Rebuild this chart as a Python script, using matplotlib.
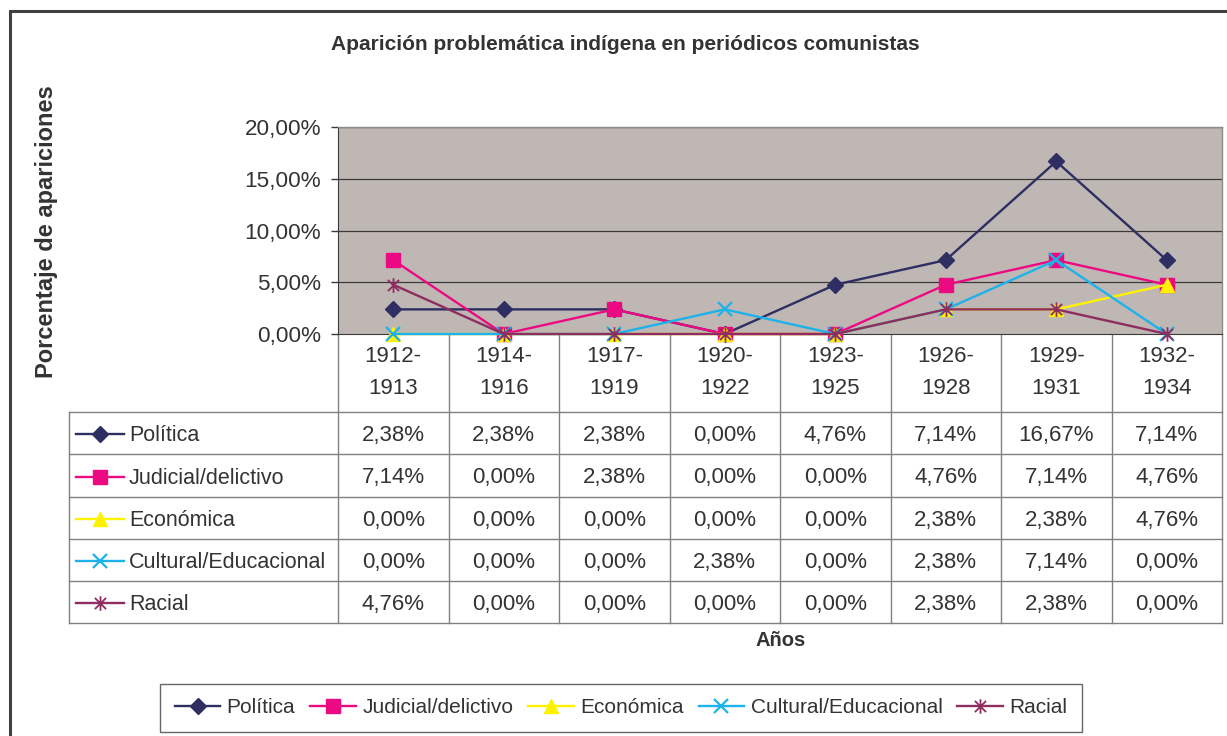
"""
Aparición problemática indígena en periódicos comunistas
Excel-style line chart with data table underneath.
"""

import matplotlib
matplotlib.use("Agg")
import matplotlib.pyplot as plt
from matplotlib.path import Path
from matplotlib.lines import Line2D

# ============================================================
# Data
# ============================================================
PERIODS = ["1912-\n1913", "1914-\n1916", "1917-\n1919", "1920-\n1922",
           "1923-\n1925", "1926-\n1928", "1929-\n1931", "1932-\n1934"]
SERIES_NAMES = ["Política", "Judicial/delictivo", "Económica",
                "Cultural/Educacional", "Racial"]
politica = [2.38, 2.38, 2.38, 0.00, 4.76, 7.14, 16.67, 7.14]
judicial = [7.14, 0.00, 2.38, 0.00, 0.00, 4.76, 7.14, 4.76]
economica = [0.00, 0.00, 0.00, 0.00, 0.00, 2.38, 2.38, 4.76]
cultural = [0.00, 0.00, 0.00, 2.38, 0.00, 2.38, 7.14, 0.00]
racial = [4.76, 0.00, 0.00, 0.00, 0.00, 2.38, 2.38, 0.00]
Y_TICKS = [0, 5, 10, 15, 20]

# ============================================================
# Styles
# ============================================================
W, H = 1227, 736
FONT = ["Liberation Sans", "DejaVu Sans"]
TXT = "#333333"
GRID = "#3a3a3a"
TABLE_LINE = "#808080"
PLOT_BG = "#BFB7B4"

# Excel "star" marker: an x with a vertical bar
ASTERISK = Path([(-1, -1), (1, 1), (-1, 1), (1, -1), (0, -1.3), (0, 1.3)],
                [Path.MOVETO, Path.LINETO, Path.MOVETO, Path.LINETO,
                 Path.MOVETO, Path.LINETO])

STYLES = [
    dict(color="#2E2E63", marker="D", ms=8.5, mfc="#2E2E63", mec="#2E2E63"),
    dict(color="#EC0A82", marker="s", ms=9.5, mfc="#EC0A82", mec="#EC0A82"),
    dict(color="#FFF200", marker="^", ms=9.5, mfc="#FFF200", mec="#FFF200"),
    dict(color="#1DB2EA", marker="x", ms=9.5, mfc="none", mec="#1DB2EA", mew=1.6),
    dict(color="#8E2D60", marker=ASTERISK, ms=10.5, mfc="none", mec="#8E2D60", mew=1.3),
]

plt.rcParams["font.family"] = FONT


def px(x, y):
    """pixel position -> figure fraction"""
    return x / W, 1 - y / H


fig = plt.figure(figsize=(W / 100, H / 100), dpi=100)
fig.patch.set_facecolor("white")

# overlay in pixel coordinates for frame, table, titles
ov = fig.add_axes([0, 0, 1, 1])
ov.set_xlim(0, W)
ov.set_ylim(H, 0)
ov.axis("off")

# outer chart frame
ov.plot([9.5, 9.5, W + 5], [H + 5, 10.5, 10.5], color="#404040", lw=2.2,
        solid_joinstyle="miter")

# ============================================================
# Plot area
# ============================================================
PL, PR, PT, PB = 338, 1222, 127, 334
ax = fig.add_axes([PL / W, 1 - PB / H, (PR - PL) / W, (PB - PT) / H])
ax.set_facecolor(PLOT_BG)
ax.set_xlim(-0.5, len(PERIODS) - 0.5)
ax.set_ylim(0, 20)
ax.set_yticks(Y_TICKS)
ax.set_yticklabels([f"{v:.2f}%".replace(".", ",") for v in Y_TICKS],
                   fontsize=16.2, color=TXT)
ax.tick_params(axis="y", length=5, width=1, color=GRID, pad=7)
ax.set_xticks([])
for yv in Y_TICKS[1:]:
    ax.axhline(yv, color=GRID, lw=0.9, zorder=1)
for s in ["top", "right"]:
    ax.spines[s].set_color("#8f8a88")
    ax.spines[s].set_linewidth(1.0)
ax.spines["left"].set_color(GRID)
ax.spines["bottom"].set_color(GRID)

all_series = [politica, judicial, economica, cultural, racial]
xs = list(range(len(PERIODS)))
for vals, st in zip(all_series, STYLES):
    ax.plot(xs, vals, color=st["color"], lw=1.7, marker=st["marker"],
            markersize=st["ms"], markerfacecolor=st["mfc"],
            markeredgecolor=st["mec"], markeredgewidth=st.get("mew", 1.0),
            zorder=3, clip_on=False)

# ============================================================
# Data table
# ============================================================
col_w = (PR - PL) / len(PERIODS)
col_edges = [PL + i * col_w for i in range(len(PERIODS) + 1)]
row_edges = [412, 454, 497, 539, 581, 623]
LBL_L = 69

# horizontal lines
for y in row_edges:
    ov.plot([LBL_L, PR], [y, y], color=TABLE_LINE, lw=1.0)
# vertical lines
ov.plot([LBL_L, LBL_L], [row_edges[0], row_edges[-1]], color=TABLE_LINE, lw=1.0)
for x in col_edges:
    ov.plot([x, x], [PB, row_edges[-1]], color=TABLE_LINE, lw=1.0)

# header
for i, lab in enumerate(PERIODS):
    cx = (col_edges[i] + col_edges[i + 1]) / 2
    top, bot = lab.split("\n")
    ov.text(cx, 357, top, ha="center", va="center", fontsize=16, color=TXT)
    ov.text(cx, 389, bot, ha="center", va="center", fontsize=16, color=TXT)

# rows
for r, (name, vals, st) in enumerate(zip(SERIES_NAMES, all_series, STYLES)):
    cy = (row_edges[r] + row_edges[r + 1]) / 2
    ov.add_line(Line2D([76, 124], [cy + 1, cy + 1], color=st["color"], lw=1.7))
    ov.add_line(Line2D([100], [cy + 1], marker=st["marker"], markersize=st["ms"],
                       markerfacecolor=st["mfc"], markeredgecolor=st["mec"],
                       markeredgewidth=st.get("mew", 1.0), linestyle="none"))
    ov.text(129, cy + 2.5, name, ha="left", va="center", fontsize=15.5, color=TXT)
    for i, v in enumerate(vals):
        cx = (col_edges[i] + col_edges[i + 1]) / 2
        ov.text(cx, cy + 2.5, f"{v:.2f}%".replace(".", ","), ha="center",
                va="center", fontsize=16, color=TXT)

# ============================================================
# Titles
# ============================================================
ov.text(625, 45, "Aparición problemática indígena en periódicos comunistas",
        ha="center", va="center", fontsize=15, fontweight="bold", color=TXT)
ov.text(47, 232, "Porcentaje de apariciones", ha="center", va="center",
        rotation=90, fontsize=17, fontweight="bold", color=TXT)
ov.text(781, 640, "Años", ha="center", va="center", fontsize=14.5,
        fontweight="bold", color=TXT)

# ============================================================
# Legend
# ============================================================
handles = [Line2D([], [], color=st["color"], lw=1.7, marker=st["marker"],
                  markersize=st["ms"], markerfacecolor=st["mfc"],
                  markeredgecolor=st["mec"], markeredgewidth=st.get("mew", 1.0))
           for st in STYLES]
x0, y0 = px(160, 732)
x1, y1 = px(1082, 687)
leg = fig.legend(handles, SERIES_NAMES, loc="lower left",
                 bbox_to_anchor=(x0, y0, x1 - x0, y1 - y0), mode="expand",
                 ncol=5, frameon=True, fancybox=False, borderaxespad=0,
                 borderpad=0.7, handlelength=2.2, handletextpad=0.3,
                 columnspacing=0.5, prop={"size": 15})
leg.get_frame().set_edgecolor("#404040")
leg.get_frame().set_linewidth(1.0)
for t in leg.get_texts():
    t.set_color(TXT)

fig.savefig("out.png", dpi=100)
